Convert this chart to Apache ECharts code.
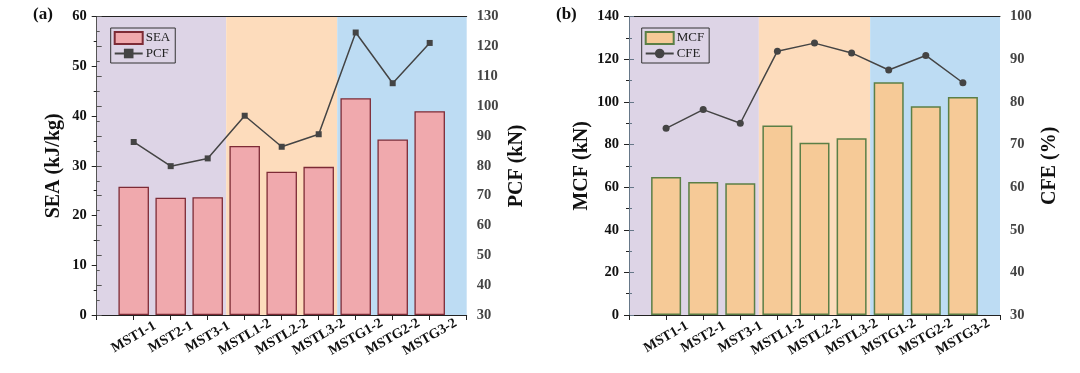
<!DOCTYPE html>
<html>
<head>
<meta charset="utf-8">
<script src="https://cdn.jsdelivr.net/npm/echarts@6/dist/echarts.min.js"></script>
<style>html,body{margin:0;padding:0;background:#fff}#c{width:1080px;height:373px}</style>
</head>
<body>
<div id="c"></div>
<script>
const categories = ['MST1-1','MST2-1','MST3-1','MSTL1-2','MSTL2-2','MSTL3-2','MSTG1-2','MSTG2-2','MSTG3-2'];
const seaValues = [25.8, 23.6, 23.7, 34.0, 28.8, 29.8, 43.6, 35.3, 41.0];
const pcfValues = [88.0, 79.9, 82.5, 96.8, 86.4, 90.6, 124.7, 107.7, 121.2];
const mcfValues = [64.8, 62.4, 61.8, 88.9, 80.9, 82.9, 109.2, 98.0, 102.3];
const cfeValues = [73.8, 78.2, 75.0, 91.9, 93.8, 91.5, 87.5, 90.9, 84.5];
const groupBounds = [0, 3.5, 6.5, 10];
const groupColors = ['#ddd4e6', '#fddcbc', '#bddcf3'];

const FONT = '"Liberation Serif", "Times New Roman", serif';
const toXY = vals => vals.map((v, i) => [i + 1, v]);
const areas = groupColors.map((c, i) => [
  { xAxis: groupBounds[i], itemStyle: { color: c, opacity: 1 } },
  { xAxis: groupBounds[i + 1] }
]);

function xAxes(gridIndex) {
  return [{
    type: 'value', gridIndex, position: 'bottom', min: 0, max: 10, interval: 1, z: 5,
    axisLine: { show: true, lineStyle: { color: '#222', width: 1 } },
    axisTick: { show: true, inside: false, length: 5, lineStyle: { color: '#222' } },
    splitLine: { show: false },
    axisLabel: {
      rotate: 30, align: 'center', verticalAlign: 'middle', margin: 22,
      fontFamily: FONT, fontWeight: 'bold', fontSize: 14, color: '#111',
      formatter: v => (v >= 1 && v <= categories.length) ? categories[v - 1] : ''
    }
  }, {
    type: 'value', gridIndex, position: 'top', min: 0, max: 10, interval: 1, z: 5,
    axisLine: { show: true, onZero: false, lineStyle: { color: '#222', width: 1 } },
    axisTick: { show: false }, axisLabel: { show: false }, splitLine: { show: false }
  }];
}

function yAxis(gridIndex, position, name, min, max, interval, nameGap, color, labelColor) {
  return {
    type: 'value', gridIndex, position, min, max, interval, z: 5,
    name, nameLocation: 'middle', nameGap, nameRotate: 90,
    nameTextStyle: { fontFamily: FONT, fontWeight: 'bold', fontSize: 20, color: '#111' },
    axisLine: { show: true, lineStyle: { color, width: 1 } },
    axisTick: { show: true, inside: false, length: 5, lineStyle: { color } },
    minorTick: { show: true, splitNumber: 2, length: 3, lineStyle: { color } },
    splitLine: { show: false },
    axisLabel: { fontFamily: FONT, fontWeight: 'bold', fontSize: 14.5, color: labelColor, margin: 10 }
  };
}

function legend(left, items) {
  return {
    left, top: 28, orient: 'vertical', itemWidth: 28, itemHeight: 12, itemGap: 2,
    padding: [3, 5, 3, 3], borderColor: '#333', borderWidth: 1,
    textStyle: { fontFamily: FONT, fontSize: 13, color: '#222', padding: [0, 0, 0, -2] },
    data: items
  };
}

const chart = echarts.init(document.getElementById('c'), null, { renderer: 'canvas' });
chart.setOption({
  animation: false,
  backgroundColor: '#fff',
  grid: [
    { left: 96.7, right: 613.3, top: 16.7, bottom: 58 },
    { left: 629, right: 80, top: 16.7, bottom: 58 }
  ],
  graphic: [
    { type: 'text', left: 33, top: 6, style: { text: '(a)', font: 'bold 17px ' + FONT, fill: '#111' } },
    { type: 'text', left: 556, top: 6, style: { text: '(b)', font: 'bold 17px ' + FONT, fill: '#111' } }
  ],
  legend: [
    legend(110.7, [{ name: 'SEA', icon: 'rect' }, { name: 'PCF' }]),
    legend(641.7, [{ name: 'MCF', icon: 'rect' }, { name: 'CFE' }])
  ],
  xAxis: [...xAxes(0), ...xAxes(1)],
  yAxis: [
    yAxis(0, 'left', 'SEA (kJ/kg)', 0, 60, 10, 33, '#222', '#111'),
    yAxis(0, 'right', 'PCF (kN)', 30, 130, 10, 40, '#555', '#444'),
    yAxis(1, 'left', 'MCF (kN)', 0, 140, 20, 37, '#222', '#111'),
    yAxis(1, 'right', 'CFE (%)', 30, 100, 10, 40, '#667788', '#444')
  ],
  series: [
    {
      name: 'SEA', type: 'bar', xAxisIndex: 0, yAxisIndex: 0, barWidth: 30.5, z: 2,
      data: toXY(seaValues),
      itemStyle: { color: '#f0a9ad', borderColor: '#7d2b36', borderWidth: 1.3 },
      markArea: { silent: true, z: 1, data: areas }
    },
    {
      name: 'PCF', type: 'line', xAxisIndex: 0, yAxisIndex: 1, z: 3,
      data: toXY(pcfValues), symbol: 'rect', symbolSize: 6,
      lineStyle: { color: '#444', width: 1.5 }, itemStyle: { color: '#444' }
    },
    {
      name: 'MCF', type: 'bar', xAxisIndex: 2, yAxisIndex: 2, barWidth: 30, z: 2,
      data: toXY(mcfValues),
      itemStyle: { color: '#f6ca97', borderColor: '#5b7f46', borderWidth: 1.5 },
      markArea: { silent: true, z: 1, data: areas }
    },
    {
      name: 'CFE', type: 'line', xAxisIndex: 2, yAxisIndex: 3, z: 3,
      data: toXY(cfeValues), symbol: 'circle', symbolSize: 7,
      lineStyle: { color: '#444', width: 1.5 }, itemStyle: { color: '#444' }
    }
  ]
});
</script>
</body>
</html>
